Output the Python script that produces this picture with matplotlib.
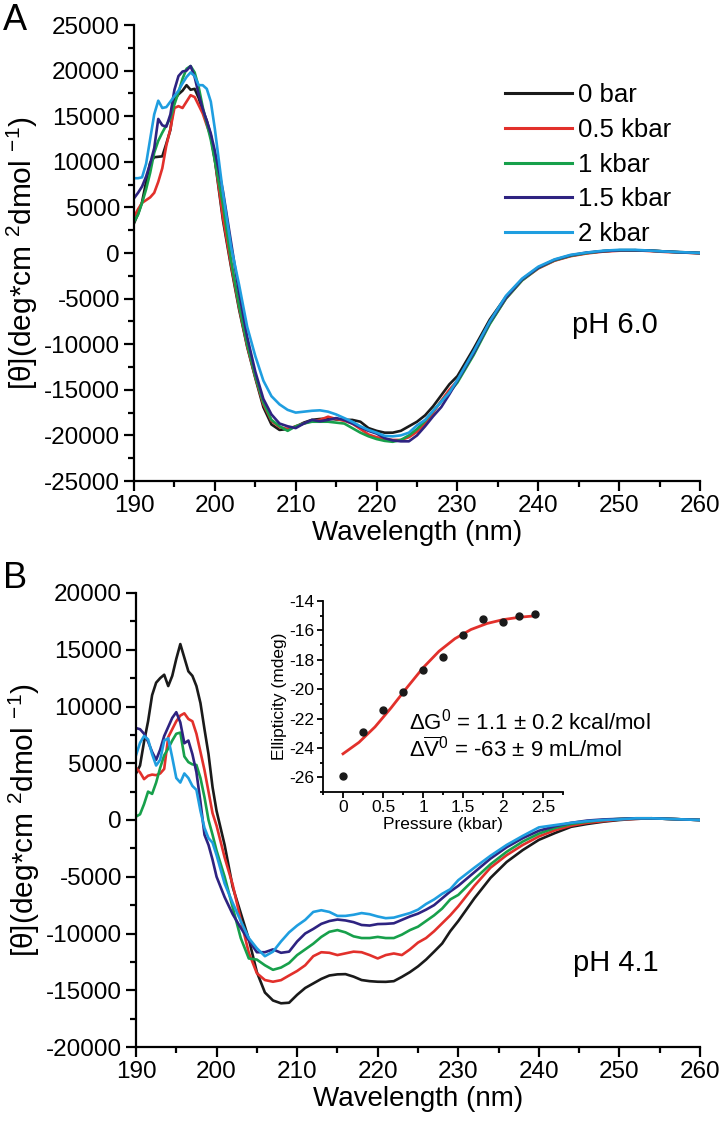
import matplotlib
matplotlib.use("Agg")
import matplotlib.pyplot as plt
from matplotlib.ticker import MultipleLocator

plt.rcParams['font.family'] = ['Liberation Sans', 'DejaVu Sans']
plt.rcParams['mathtext.fontset'] = 'custom'
plt.rcParams['mathtext.rm'] = 'Liberation Sans'
plt.rcParams['mathtext.it'] = 'Liberation Sans'
plt.rcParams['mathtext.default'] = 'regular'
plt.rcParams['axes.unicode_minus'] = False

# ---------------- data ----------------
wavelength = [190, 190.5, 191, 191.5, 192, 192.5, 193, 193.5, 194, 194.5, 195, 195.5,
              196, 196.5, 197, 197.5, 198, 198.5, 199, 199.5, 200,
              201, 202, 203, 204, 205, 206, 207, 208, 209, 210, 211, 212, 213, 214, 215,
              216, 217, 218, 219, 220, 221, 222, 223, 224, 225, 226, 227, 228, 229, 230,
              232, 234, 236, 238, 240, 242, 244, 246, 248, 250, 252, 254, 256, 258, 260]

series_labels = ['0 bar', '0.5 kbar', '1 kbar', '1.5 kbar', '2 kbar']
series_colors = ['#1a1a1a', '#e2302b', '#17a04b', '#2e2381', '#1f9ee0']

# Panel A (pH 6.0)
a_0bar = [3250, 4300, 5600, 7800, 9900, 10500, 10550, 10600, 12000, 13500, 16800, 17400,
          17800, 18400, 17900, 18000, 17000, 15600, 14500, 12900, 10200,
          3600, -1500, -6200, -10300, -13700, -16900, -18800, -19400, -19300, -19050, -18600, -18300, -18200, -18150, -18250,
          -18300, -18300, -18500, -19200, -19500, -19700, -19700, -19500, -19000, -18500, -17800, -16800, -15600, -14400, -13500,
          -10500, -7300, -4800, -2900, -1600, -800, -300, 0, 200, 300, 300, 250, 150, 80, 0]
a_05kbar = [3980, 4800, 5500, 5800, 6100, 6600, 7800, 9300, 11800, 13600, 15900, 16100,
            15900, 16600, 17300, 17100, 16200, 15300, 14000, 12800, 10300,
            3900, -1300, -6000, -10200, -13600, -16600, -18400, -19100, -19300, -19000, -18700, -18400, -18300, -17950, -18200,
            -18400, -18700, -19300, -19900, -20200, -20400, -20500, -20500, -20200, -19600, -18700, -17500, -16200, -15000, -14000,
            -11000, -7700, -5000, -3000, -1700, -850, -350, -50, 150, 250, 300, 200, 100, 50, -50]
a_1kbar = [3430, 4200, 5500, 7000, 8800, 11000, 12300, 13200, 14000, 14800, 16300, 17600,
           19100, 20200, 20500, 19800, 18200, 16000, 14200, 12400, 10100,
           5300, -800, -5800, -10000, -13500, -16400, -18300, -19000, -19500, -19000, -18700, -18500, -18500, -18500, -18600,
           -18700, -19200, -19700, -20100, -20400, -20600, -20700, -20500, -20000, -19300, -18400, -17300, -16300, -15300, -14200,
           -11200, -7800, -5000, -3000, -1650, -800, -300, 0, 200, 300, 300, 250, 150, 50, 0]
a_15kbar = [6000, 6600, 7300, 8400, 9800, 11500, 14700, 14000, 13850, 15200, 17900, 19400,
            19900, 20000, 20500, 19300, 17400, 15800, 14500, 13100, 11200,
            6800, 1200, -4400, -9200, -13000, -16000, -17700, -18700, -19000, -19200, -18700, -18300, -18450, -18300, -18100,
            -18300, -18700, -19100, -19500, -19800, -20300, -20550, -20650, -20650, -20000, -19000, -17900, -16900, -15500, -14000,
            -11000, -7600, -4900, -2900, -1600, -750, -250, 50, 200, 300, 300, 250, 150, 50, 0]
a_2kbar = [8200, 8200, 8300, 9800, 12500, 15200, 16700, 15900, 16000, 16600, 17200, 17800,
           18600, 19300, 19800, 19400, 18400, 18400, 18000, 16600, 13600,
           6600, 700, -3500, -8100, -11300, -14000, -15700, -16600, -17200, -17500, -17400, -17300, -17250, -17400, -17700,
           -18100, -18500, -19000, -19400, -19700, -20050, -20100, -20000, -19700, -18900, -18300, -17300, -16300, -15300, -13900,
           -10800, -7500, -4700, -2800, -1500, -700, -200, 50, 250, 350, 350, 250, 150, 80, 0]

# Panel B (pH 4.1)
b_0bar = [4100, 4800, 6900, 8700, 11000, 12100, 12500, 12800, 11800, 12700, 14200, 15500,
          14300, 13100, 12700, 11800, 10300, 8000, 5800, 2900, 800,
          -2200, -5900, -8200, -10500, -13400, -15200, -15900, -16150, -16100, -15400, -14800, -14400, -14000, -13700, -13600,
          -13580, -13800, -14100, -14200, -14250, -14260, -14200, -13820, -13400, -12900, -12300, -11600, -10880, -9800, -8900,
          -6900, -5100, -3700, -2650, -1750, -1150, -600, -350, -150, 0, 100, 150, 100, 50, 0]
b_05kbar = [4600, 4200, 3600, 3900, 4000, 3950, 4100, 4500, 7300, 8000, 8700, 9200,
            9400, 8900, 8700, 7600, 6000, 4400, 2500, 600, -500,
            -3300, -5700, -8800, -11700, -13500, -14100, -14250, -14110, -13700, -13300, -12800, -12000, -11650, -11700, -11900,
            -11750, -11600, -11650, -11900, -12200, -11900, -11760, -11900, -11400, -10800, -10400, -9800, -9100, -8400, -7600,
            -5800, -4200, -3100, -2200, -1450, -900, -500, -250, -100, 50, 100, 150, 100, 50, 0]
b_1kbar = [300, 500, 1400, 2500, 2300, 3300, 4600, 5700, 6300, 7000, 7600, 7700,
           5600, 5100, 4900, 4850, 3700, 2000, 0, -1300, -2700,
           -5000, -7700, -10400, -12200, -12300, -12800, -13200, -13000, -12600, -11900, -11400, -10900, -10300, -9850, -9700,
           -9900, -10250, -10400, -10400, -10300, -10400, -10400, -10100, -9700, -9400, -8900, -8400, -7800, -7000, -6600,
           -5200, -3900, -2800, -1900, -1200, -700, -350, -150, 0, 100, 150, 150, 100, 50, 0]
b_15kbar = [8100, 8000, 7600, 6900, 6000, 5300, 6200, 7400, 8200, 9000, 9500, 8600,
            6760, 7000, 5800, 4200, 1600, -1300, -2200, -3500, -5000,
            -6800, -8300, -9500, -10600, -11650, -11650, -11400, -11700, -11600, -10700, -10000, -9600, -9150, -8900, -8770,
            -8850, -9000, -9250, -9300, -9170, -9150, -9100, -8800, -8500, -8250, -7900, -7500, -6900, -6300, -5800,
            -4600, -3400, -2400, -1600, -950, -550, -250, -50, 50, 100, 150, 150, 100, 50, 0]
b_2kbar = [5700, 6800, 7400, 7100, 5800, 4800, 5300, 7000, 7200, 5500, 3700, 3300,
           4100, 3700, 3000, 2650, 800, -700, -1600, -2000, -3100,
           -5600, -7300, -8900, -10400, -11300, -12000, -11600, -10700, -9900, -9300, -8800, -8100, -7950, -8100, -8450,
           -8450, -8350, -8200, -8300, -8500, -8650, -8600, -8400, -8200, -7900, -7400, -7000, -6500, -6100, -5300,
           -4200, -3150, -2200, -1400, -650, -450, -250, -100, 0, 50, 150, 150, 100, 50, 0]

# Inset: ellipticity vs pressure
inset_pressure = [0, 0.25, 0.5, 0.75, 1.0, 1.25, 1.5, 1.75, 2.0, 2.2, 2.4]
inset_ellipticity = [-25.9, -22.9, -21.4, -20.2, -18.7, -17.8, -16.3, -15.2, -15.4, -15.0, -14.9]
fit_pressure = [0, 0.2, 0.4, 0.6, 0.8, 1.0, 1.2, 1.4, 1.6, 1.8, 2.0, 2.2, 2.4]
fit_ellipticity = [-24.40, -23.62, -22.57, -21.28, -19.89, -18.55, -17.42, -16.56, -15.94, -15.53, -15.27, -15.11, -15.01]

# ---------------- figure ----------------
W, H = 721, 1132
fig = plt.figure(figsize=(W / 100, H / 100), dpi=100)

def fx(px):
    return px / W

def fy(py):
    return 1 - py / H

TICK_FS = 17.5
LABEL_FS = 20
YLABEL_FS = 21.5
LW = 1.9

def style_main(ax, ymin, ymax):
    for s in ['top', 'right']:
        ax.spines[s].set_visible(False)
    for s in ['left', 'bottom']:
        ax.spines[s].set_linewidth(1.6)
    ax.set_xlim(190, 260)
    ax.set_ylim(ymin, ymax)
    ax.xaxis.set_major_locator(MultipleLocator(10))
    ax.xaxis.set_minor_locator(MultipleLocator(5))
    ax.yaxis.set_major_locator(MultipleLocator(5000))
    ax.yaxis.set_minor_locator(MultipleLocator(2500))
    ax.tick_params(which='major', direction='out', length=7, width=1.6, labelsize=TICK_FS, pad=3)
    ax.tick_params(which='minor', direction='out', length=4, width=1.6)
    ax.set_xlabel('Wavelength (nm)', fontsize=LABEL_FS, labelpad=2)
    ax.set_ylabel('[θ](deg*cm $^{2}$dmol $^{-1}$)', fontsize=YLABEL_FS, labelpad=3)

# Panel A
axA = fig.add_axes([fx(134), fy(481), fx(700) - fx(134), fy(25) - fy(481)])
a_series = [a_0bar, a_05kbar, a_1kbar, a_15kbar, a_2kbar]
for vals, lab, col in zip(a_series, series_labels, series_colors):
    axA.plot(wavelength, vals, color=col, lw=LW, label=lab)
style_main(axA, -25000, 25000)
axA.text(249.5, -7900, 'pH 6.0', fontsize=21, ha='center', va='center')
leg = axA.legend(loc='upper left', bbox_to_anchor=(fx(505), fy(83)), bbox_transform=fig.transFigure,
                 frameon=False, fontsize=18.5, handlelength=2.6, handletextpad=0.25,
                 labelspacing=0.42, borderpad=0, borderaxespad=0)
for h in leg.legend_handles:
    h.set_linewidth(2.2)
fig.text(fx(3), fy(20), 'A', fontsize=26, ha='left', va='center')

# Panel B
axB = fig.add_axes([fx(136), fy(1047), fx(700) - fx(136), fy(593) - fy(1047)])
b_series = [b_0bar, b_05kbar, b_1kbar, b_15kbar, b_2kbar]
for vals, lab, col in zip(b_series, series_labels, series_colors):
    axB.plot(wavelength, vals, color=col, lw=LW, label=lab)
style_main(axB, -20000, 20000)
axB.text(249.5, -12600, 'pH 4.1', fontsize=21, ha='center', va='center')
fig.text(fx(3), fy(578), 'B', fontsize=26, ha='left', va='center')

# Inset
axI = fig.add_axes([fx(323), fy(792), fx(563) - fx(323), fy(601) - fy(792)])
axI.plot(fit_pressure, fit_ellipticity, color='#e2302b', lw=2.0, zorder=2)
axI.plot(inset_pressure, inset_ellipticity, 'o', color='#1a1a1a', ms=5, zorder=3)
for s in ['top', 'right']:
    axI.spines[s].set_visible(False)
for s in ['left', 'bottom']:
    axI.spines[s].set_linewidth(1.3)
axI.set_xlim(-0.25, 2.75)
axI.set_ylim(-27, -14)
axI.xaxis.set_minor_locator(MultipleLocator(0.25))
axI.yaxis.set_major_locator(MultipleLocator(2))
axI.yaxis.set_minor_locator(MultipleLocator(1))
axI.set_xticks([0, 0.5, 1, 1.5, 2, 2.5])
axI.set_xticklabels(['0', '0.5', '1', '1.5', '2', '2.5'])
axI.tick_params(which='major', direction='out', length=4, width=1.3, labelsize=12.5, pad=2)
axI.tick_params(which='minor', direction='out', length=2.5, width=1.3)
axI.set_xlabel('Pressure (kbar)', fontsize=12.5, labelpad=1)
axI.set_ylabel('Ellipticity (mdeg)', fontsize=12.5, labelpad=2)
axI.patch.set_alpha(0)
fig.text(fx(409), fy(722), 'ΔG$^{0}$ = 1.1 ± 0.2 kcal/mol', fontsize=16, ha='left', va='center')
fig.text(fx(409), fy(750), 'Δ$\\overline{V}^{0}$ = -63 ± 9 mL/mol', fontsize=16, ha='left', va='center')

fig.savefig('out.png', dpi=100)
